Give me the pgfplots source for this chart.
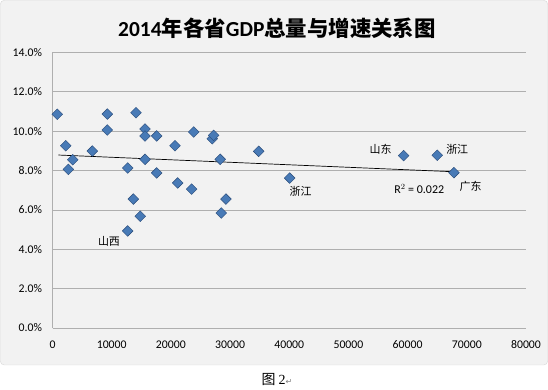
\documentclass[border=0pt]{standalone}
\usepackage{fontspec}
\setmainfont{Carlito}
\newfontfamily\cjk{Noto Sans CJK SC}
\newfontfamily\serif{Liberation Serif}
\newfontfamily\dejavu{DejaVu Sans}
\usepackage{pgfplots}
\pgfplotsset{compat=1.18}
\definecolor{chartbg}{RGB}{242,242,242}
\definecolor{gridgray}{RGB}{175,175,175}
\definecolor{markfill}{RGB}{72,122,182}
\definecolor{markdraw}{RGB}{38,72,118}
\begin{document}
\begin{tikzpicture}
\path[use as bounding box] (0,0) rectangle (548bp,390bp);
\fill[white] (0,0) rectangle (548bp,390bp);
\filldraw[fill=chartbg, draw=gray!30, rounded corners=4bp] (0.3bp,25bp) rectangle (547.7bp,389.7bp);
\node[font=\fontsize{21.5}{25}\selectfont\bfseries] at (277bp,362bp) {2014{\cjk\bfseries 年各省}GDP{\cjk\bfseries 总量与增速关系图}};
\node[font=\fontsize{14}{16}\selectfont] at (277bp,10bp) {{\cjk 图} {\serif 2}{\dejavu\fontsize{8}{9}\selectfont\color{gray}↵}};
\begin{axis}[
  at={(52.5bp,62bp)}, anchor=south west,
  scale only axis, width=473.5bp, height=275.5bp,
  xmin=0, xmax=80000, ymin=0, ymax=14,
  xtick={0,10000,...,80000}, ytick={0,2,...,14},
  scaled x ticks=false,
  axis lines=left, axis line style={draw=gridgray, line width=0.8bp, -},
  ymajorgrids, grid style={draw=gridgray, line width=0.8bp},
  major tick length=0pt,
  /pgf/number format/assume math mode=true,
  xticklabel style={font=\fontsize{11.8}{13}\selectfont, /pgf/number format/1000 sep={}, yshift=-9bp},
  yticklabel style={font=\fontsize{11.8}{13}\selectfont, xshift=-7bp},
  yticklabel={\pgfmathprintnumber[fixed,fixed zerofill,precision=1]{\tick}\%},
  clip=false,
]
\addplot[black, line width=0.7pt] coordinates {(980,8.79) (67820,7.94)};
\addplot[only marks, mark=square*, mark size=3.8bp, mark options={rotate=45, fill=markfill, draw=markdraw, line width=0.4pt}] coordinates {
(811,10.86) (2230,9.26) (2670,8.06) (3410,8.55) (6720,8.99)
(9260,10.87) (9260,10.06) (12700,8.13) (13650,6.55) (12700,4.93)
(14100,10.94) (14830,5.68) (15630,10.11) (15630,9.76) (15630,8.57)
(17600,9.76) (17600,7.88) (20690,9.26) (21150,7.37) (23510,7.06)
(23850,9.96) (26990,9.62) (27230,9.79) (28340,8.57) (29310,6.55)
(28510,5.84) (34830,8.98) (40070,7.62) (59320,8.76) (65000,8.78)
(67820,7.89)};
\node[font=\cjk\fontsize{11}{13}\selectfont] at (axis cs:9540,4.42) {山西};
\node[font=\cjk\fontsize{11}{13}\selectfont] at (axis cs:41930,6.96) {浙江};
\node[font=\cjk\fontsize{11}{13}\selectfont] at (axis cs:55440,9.08) {山东};
\node[font=\cjk\fontsize{11}{13}\selectfont] at (axis cs:68380,9.08) {浙江};
\node[font=\cjk\fontsize{11}{13}\selectfont] at (axis cs:70640,7.21) {广东};
\node[font=\fontsize{12}{14}\selectfont] at (axis cs:61960,7.06) {R$^2$ = 0.022};
\end{axis}
\end{tikzpicture}
\end{document}
